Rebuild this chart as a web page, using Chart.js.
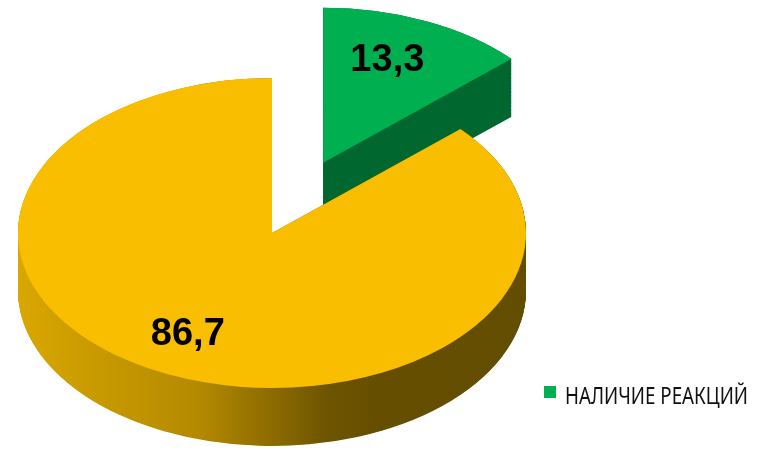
<!DOCTYPE html>
<html>
<head>
<meta charset="utf-8">
<script src="https://cdn.jsdelivr.net/npm/chart.js@4.4.1/dist/chart.umd.min.js"></script>
<style>
  html, body { margin: 0; padding: 0; background: #fff; }
  canvas { display: block; }
</style>
</head>
<body>
<canvas id="chart" width="761" height="451"></canvas>
<script>
// data
const labels = ['НАЛИЧИЕ РЕАКЦИЙ', ''];
const values = [13.3, 86.7];
const topColors = ['#00B050', '#F9BE00'];

// fake 3d: squash the pie vertically, pull slices out, extrude downward
const TILT = 0.61;
const CENTER_Y = 233;
const DEPTH = 58 / TILT;
const EXPLODE = [126, 0];

function midAngle(el) {
    return (el.startAngle + el.endAngle) / 2;
}

function wedge(ctx, el, dy) {
    ctx.beginPath();
    ctx.moveTo(el.x, el.y + dy);
    ctx.arc(el.x, el.y + dy, el.outerRadius, el.startAngle, el.endAngle);
    ctx.closePath();
}

function sideFill(ctx, i) {
    if (i === 0) return '#006830';
    const g = ctx.createLinearGradient(18, 0, 526, 0);
    g.addColorStop(0, '#D9A700');
    g.addColorStop(0.36, '#B38900');
    g.addColorStop(0.61, '#6E5400');
    g.addColorStop(0.71, '#654E00');
    g.addColorStop(1, '#634D00');
    return g;
}

const pie3d = {
    id: 'pie3d',
    beforeDatasetsDraw(chart) {
        const ctx = chart.ctx;
        const arcs = chart.getDatasetMeta(0).data;
        // explode: move the slice centre along its mid angle
        arcs.forEach((el, i) => {
            const m = midAngle(el);
            el.x += Math.cos(m) * EXPLODE[i];
            el.y += Math.sin(m) * EXPLODE[i];
        });
        ctx.save();
        ctx.translate(0, CENTER_Y);
        ctx.scale(1, TILT);
        ctx.translate(0, -CENTER_Y);
        arcs.forEach((el, i) => {
            ctx.fillStyle = sideFill(ctx, i);
            for (let d = DEPTH; d > 0; d -= 1) {
                wedge(ctx, el, d);
                ctx.fill();
            }
        });
    },
    afterDatasetsDraw(chart) {
        const ctx = chart.ctx;
        ctx.restore();
        const arcs = chart.getDatasetMeta(0).data;
        // value labels
        ctx.save();
        ctx.font = 'bold 38px "Liberation Sans", Arial, sans-serif';
        ctx.fillStyle = '#000';
        ctx.textAlign = 'center';
        ctx.textBaseline = 'middle';
        arcs.forEach((el, i) => {
            const m = midAngle(el);
            const r = el.outerRadius * 0.72;
            const x = el.x + Math.cos(m) * r - 10;
            const y = CENTER_Y + (el.y + Math.sin(m) * r - CENTER_Y) * TILT;
            ctx.fillText(String(values[i]).replace('.', ','), x, y);
        });
        ctx.restore();
        // put the elements back
        arcs.forEach((el, i) => {
            const m = midAngle(el);
            el.x -= Math.cos(m) * EXPLODE[i];
            el.y -= Math.sin(m) * EXPLODE[i];
        });
    },
    afterDraw(chart) {
        // legend, only named categories
        const ctx = chart.ctx;
        ctx.save();
        ctx.font = '23px "Noto Sans", sans-serif';
        ctx.textBaseline = 'middle';
        labels.forEach((lab, i) => {
            if (!lab) return;
            ctx.fillStyle = topColors[i];
            ctx.fillRect(544, 386, 12, 12);
            ctx.fillStyle = '#111';
            ctx.fillText(lab, 565, 397, 183);
        });
        ctx.restore();
    }
};

new Chart(document.getElementById('chart'), {
    type: 'pie',
    data: {
        labels,
        datasets: [{
            data: values,
            backgroundColor: topColors,
            borderWidth: 0,
            clip: false
        }]
    },
    options: {
        responsive: false,
        animation: false,
        events: [],
        radius: 254,
        layout: { padding: { left: 0, right: 217, top: 15, bottom: 0 } },
        plugins: {
            legend: { display: false },
            tooltip: { enabled: false }
        }
    },
    plugins: [pie3d]
});
</script>
</body>
</html>
